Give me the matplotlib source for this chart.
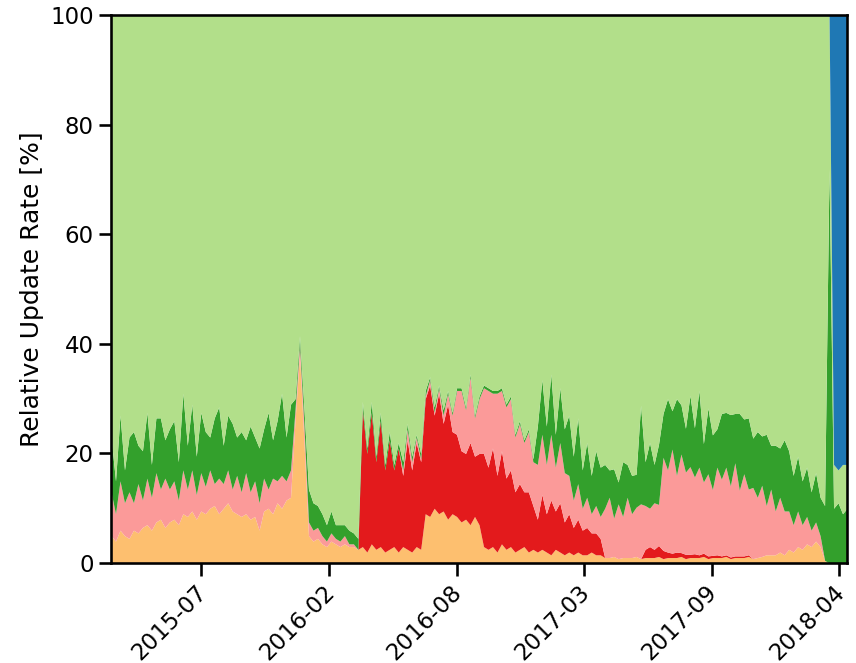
import numpy as np
import pandas as pd
import matplotlib
matplotlib.use("Agg")
import matplotlib.pyplot as plt
import matplotlib.dates as mdates
import matplotlib.transforms as mtransforms
import seaborn as sns

sns.set_context("talk")
sns.set_style("ticks", {"axes.edgecolor": "black", "text.color": "black",
                        "xtick.color": "black", "ytick.color": "black",
                        "axes.labelcolor": "black"})

# weekly samples, 2015-03-01 .. 2018-04-22
weeks = pd.date_range("2015-03-01", periods=165, freq="7D")

# share of updates per layer [%] (bottom to top)
orange = [5, 4, 6, 5, 4.5, 6, 5.5,
          6.5, 7, 6, 7.5, 8, 6.5, 7.5,
          8, 7, 9, 8.5, 9.5, 8, 9.5,
          9, 10, 10.5, 9, 10, 11, 9.5,
          9, 8.5, 9, 8, 8.5, 6,
          9.5, 10, 9, 11, 10, 11.5, 12,
          26, 38, 22,
          5, 4, 4.5,
          3.5, 3, 4, 3.5, 3, 3.5, 3, 3,
          2.5, 3, 2, 3.5, 2.5, 3, 2, 2.5, 3, 2, 3, 2.5, 2, 3, 2.5,
          9, 8.5, 10, 9, 9.5, 8, 9, 8.5, 7.5, 8, 7, 8.5, 7,
          3, 2.5, 3, 2, 3.5, 2.5, 3, 2, 2.5, 3, 2, 2.5, 2, 2.5,
          2, 1.5, 2.5, 2, 1.5, 2, 1.5, 2, 1.5, 1.5, 2, 1.5, 1.5,
          1, 1, 1.2, 0.8, 1, 1, 1, 1.2, 0.8, 1, 1, 1, 1.2, 0.8, 1,
          1, 1, 1.2, 0.8, 1, 1, 1, 1.2, 0.8, 1, 1, 1, 1.2, 0.8, 1,
          1, 1, 1.2, 0.8, 1, 1.2, 1.5, 1.5,
          1.5, 2, 1.5, 2.5, 2, 3, 2.5, 3.5, 3, 4, 3,
          0.5, 0, 0, 0, 0, 0]

red = [0, 0, 0, 0, 0, 0, 0, 0, 0, 0, 0, 0, 0, 0,
       0, 0, 0, 0, 0, 0, 0, 0, 0, 0, 0, 0, 0, 0,
       0, 0, 0, 0, 0, 0, 0, 0, 0, 0, 0, 0, 0, 0,
       0, 0, 0, 0, 0, 0, 0, 0, 0, 0, 0, 0, 0, 0,
       25, 18, 24, 16, 23, 15, 20, 14, 19, 13, 20, 15, 19, 16,
       21, 24, 17, 22, 16, 21, 15,
       15, 13, 12, 15, 11, 13,
       17, 15, 18, 14, 17, 13,
       14, 11, 12, 10, 11, 8, 6,
       10, 7, 10, 7, 9, 6,
       7, 5, 6, 4.5, 5, 3.5, 4, 3,
       0, 0, 0, 0, 0, 0, 0, 0, 0,
       1.5, 2, 1.5, 2, 1.5,
       1, 0.8, 1, 0.7, 0.8, 0.6, 0.7, 0.5, 0.6, 0.5, 0.4, 0.5, 0.3,
       0.3, 0.3, 0.3, 0.3, 0.3, 0.3,
       0, 0, 0, 0, 0, 0, 0, 0, 0, 0, 0,
       0, 0, 0, 0, 0, 0, 0, 0, 0, 0, 0]

pink = [8, 5, 9, 6, 8.5, 5, 9,
        5, 8.5, 6, 9, 5.5, 9, 6,
        7, 4.5, 8, 5, 7.5, 4.5, 7,
        5, 7, 4, 6.5, 4.5, 6, 4,
        7, 4.5, 7.5, 5, 6.5, 5,
        6, 3.5, 6.5, 4, 6, 3.5, 5,
        2, 2, 3,
        2.5, 2, 2,
        1.5, 1, 1.5, 1, 1, 1.5, 0.5, 0.5,
        0, 0, 0, 0, 0, 0, 0, 0, 0, 0,
        1, 2, 1.5, 1, 0.5,
        0.5, 1, 0.5, 1, 1.5, 2, 3,
        8, 11, 8, 12, 7, 10,
        12, 14, 10, 15, 11, 13,
        13, 10, 11, 9, 11, 8, 10,
        11, 9, 12, 8, 11, 9,
        7, 5, 6.5, 4, 5.5, 3.5, 5, 4,
        9, 11, 7, 10, 7.5, 11, 8, 9, 10,
        8, 7, 8.5, 7.5,
        17, 15, 19, 14, 18, 15, 16, 14, 16, 13, 15, 12, 16, 14,
        16, 13, 17, 12, 15, 12, 13,
        11, 13, 9, 12, 8, 10, 8,
        7, 5, 6.5, 4.5, 5, 3, 3.5, 2,
        0, 0, 0, 0, 0, 0]

green = [10, 6, 12, 6, 10, 13, 7,
         9, 12, 6, 10, 13, 7, 11,
         11, 7, 14, 8, 12, 7, 11,
         10, 6, 12, 13, 7, 10, 12,
         7, 11, 6, 12, 8, 10,
         9, 14, 7, 11, 15, 8, 12,
         2, 1.5, 3,
         6, 5, 4,
         4, 3, 4, 2.5, 3, 2, 2.5, 2,
         2,
         1.5, 1, 2, 1, 1.5, 1, 1.5, 1, 1, 1.5, 1, 1, 0.5, 1,
         1, 0.5, 1, 0.5, 1, 0.5, 0.5,
         0.5, 0.5, 0.5, 0.5, 0.5, 0.5, 0.5, 0.5, 0.5,
         0.5, 0.5, 0.5, 0.5, 0.5, 0.5, 0.5, 0.5, 0.5,
         7, 10, 7, 11, 6, 10, 8,
         11, 8, 12, 7, 10, 7, 10, 9,
         8, 5, 9, 4, 10, 6, 7, 6, 18,
         8, 12, 7, 11,
         8, 13, 7, 14, 9, 8, 13, 9, 14, 7, 12, 10, 7, 12,
         10, 13, 9, 14, 10, 13, 9,
         12, 9, 13, 8, 12, 9, 13,
         11, 9, 10, 8, 9, 7, 9, 7,
         10, 72, 10, 11, 9, 10]

# blue only shows up in the last weeks
blue_tail = [82, 83, 82, 82]

n = len(weeks)
blue = np.concatenate([np.zeros(n - len(blue_tail)), blue_tail])
lower = np.array(orange) + np.array(red) + np.array(pink) + np.array(green)
light_green = 100 - lower - blue

colors = ["#fdbf6f", "#e31a1c", "#fb9a99", "#33a02c", "#b2df8a", "#1f78b4"]

fig, ax = plt.subplots(figsize=(8.56, 6.63), dpi=100)
fig.subplots_adjust(left=0.1297, right=0.9895, bottom=0.1508, top=0.977)

ax.stackplot(weeks, orange, red, pink, green, light_green, blue,
             colors=colors, linewidth=0)

ax.set_xlim(weeks[0], weeks[-1])
ax.set_ylim(0, 100)

tick_dates = pd.to_datetime(["2015-07-20", "2016-02-04", "2016-08-21",
                             "2017-03-08", "2017-09-23", "2018-04-10"])
ax.set_xticks(tick_dates)
ax.xaxis.set_major_formatter(mdates.DateFormatter("%Y-%m"))
plt.setp(ax.get_xticklabels(), rotation=45, ha="right")
# nudge the rotated labels a bit to the right, like the original
shift = mtransforms.ScaledTranslation(0.1, 0, fig.dpi_scale_trans)
for lbl in ax.get_xticklabels():
    lbl.set_transform(lbl.get_transform() + shift)
ax.set_ylabel("Relative Update Rate [%]")

fig.savefig("out.png", dpi=100)
